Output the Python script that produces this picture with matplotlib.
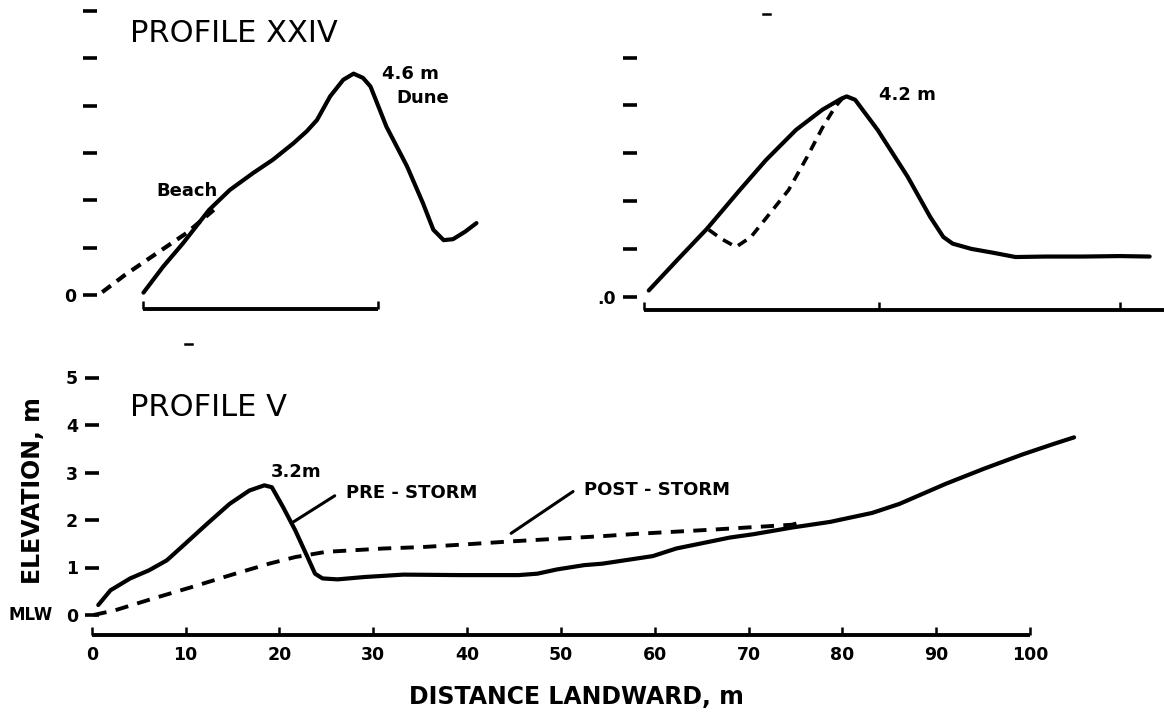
import matplotlib
matplotlib.use("Agg")
import matplotlib.pyplot as plt
from matplotlib.lines import Line2D

# ---------------- data ----------------
# Profile XXIV (top-left), distance m / elevation m
xxiv_solid_x = [5.7, 7.8, 9.9, 12.7, 14.9, 17.4, 19.5, 21.7, 23.1, 24.2, 25.6, 27.0,
                28.1, 29.1, 29.9, 31.6, 33.8, 35.5, 36.6, 37.7, 38.7, 40.0, 41.2]
xxiv_solid_y = [0.05, 0.60, 1.09, 1.80, 2.22, 2.58, 2.86, 3.21, 3.46, 3.70, 4.20, 4.55,
                4.68, 4.59, 4.41, 3.56, 2.72, 1.94, 1.38, 1.16, 1.18, 1.34, 1.52]
xxiv_dash_x = [1.3, 3.7, 7.1, 10.3, 13.2]
xxiv_dash_y = [0.06, 0.42, 0.88, 1.31, 1.80]

# second top profile (top-right)
tr_solid_x = [2.0, 5.0, 8.2, 11.7, 14.5, 17.7, 20.5, 22.5, 23.1, 24.0, 26.4, 29.6,
              32.0, 33.4, 34.4, 36.4, 38.7, 41.1, 44.3, 48.3, 52.2, 55.4]
tr_solid_y = [0.13, 0.76, 1.42, 2.23, 2.86, 3.49, 3.91, 4.14, 4.19, 4.12, 3.49, 2.51,
              1.67, 1.25, 1.11, 1.00, 0.92, 0.83, 0.84, 0.84, 0.85, 0.84]
tr_dash_x = [8.4, 9.75, 11.3, 12.9, 14.9, 16.9, 18.9, 20.5, 21.9, 22.7]
tr_dash_y = [1.40, 1.21, 1.04, 1.25, 1.74, 2.23, 2.93, 3.53, 3.98, 4.16]

# Profile V (bottom): pre-storm (solid) and post-storm (dashed)
pre_x = [0.7, 2.0, 4.1, 6.1, 8.0, 9.8, 12.3, 14.7, 16.8, 18.4, 19.2, 20.4, 21.7, 23.0,
         23.8, 24.6, 26.2, 29.1, 33.2, 39.3, 45.5, 47.5, 49.6, 52.5, 54.4, 59.8, 62.3,
         68.0, 70.5, 74.6, 78.7, 83.2, 86.1, 91.0, 95.1, 99.2, 102.5, 104.7]
pre_y = [0.21, 0.52, 0.77, 0.94, 1.15, 1.47, 1.92, 2.34, 2.62, 2.73, 2.69, 2.27, 1.78, 1.22,
         0.87, 0.77, 0.75, 0.80, 0.85, 0.84, 0.84, 0.87, 0.96, 1.05, 1.08, 1.24, 1.40,
         1.63, 1.70, 1.84, 1.96, 2.15, 2.34, 2.76, 3.08, 3.38, 3.60, 3.74]
post_x = [0.2, 2.5, 6.6, 10.7, 14.8, 18.9, 21.7, 25.0, 31.1, 35.2, 39.3, 44.7, 50.0,
          54.4, 58.2, 66.4, 74.6, 75.4]
post_y = [0.00, 0.10, 0.35, 0.59, 0.84, 1.08, 1.22, 1.33, 1.40, 1.43, 1.48, 1.55, 1.61,
          1.66, 1.71, 1.80, 1.90, 1.94]

bottom_xticks = [0, 10, 20, 30, 40, 50, 60, 70, 80, 90, 100]
bottom_xticklabels = ["0", "10", "20", "30", "40", "50", "60", "70", "80", "90", "100"]
bottom_yticks = [0, 1, 2, 3, 4, 5]
bottom_yticklabels = ["0", "1", "2", "3", "4", "5"]
xxiv_yticks = [0, 1, 2, 3, 4, 5, 6]
tr_yticks = [0, 1, 2, 3, 4, 5]

# ---------------- figure ----------------
W, H = 1164, 715
fig = plt.figure(figsize=(W / 100, H / 100), dpi=100)
plt.rcParams['font.family'] = ['DejaVu Sans']
INK = "black"


def make_axes(x0, sx, y0, sy, xlim, ylim):
    """Axes placed so that data (0,0) sits at pixel (x0, y0) with sx, sy px per metre."""
    left = x0 + xlim[0] * sx
    right = x0 + xlim[1] * sx
    bot = y0 - ylim[0] * sy
    top = y0 - ylim[1] * sy
    ax = fig.add_axes([left / W, 1 - bot / H, (right - left) / W, (bot - top) / H])
    ax.set_xlim(*xlim)
    ax.set_ylim(*ylim)
    ax.patch.set_alpha(0)
    for s in ("top", "right"):
        ax.spines[s].set_visible(False)
    ax.spines["left"].set_position(("data", 0))
    ax.spines["left"].set_visible(False)
    ax.spines["bottom"].set_linewidth(2.8)
    ax.spines["bottom"].set_capstyle("butt")
    ax.tick_params(axis="y", direction="inout", length=10, width=2.6, pad=5,
                   labelsize=12.5, colors=INK)
    ax.tick_params(axis="x", direction="in", length=5.5, width=1.8, pad=8,
                   labelsize=12.5, colors=INK)
    return ax


LABEL = dict(fontsize=13, fontweight="bold", color=INK, ha="center", va="center")
TITLE = dict(fontsize=22, fontweight="normal", color=INK, ha="left", va="center")

# ---- top-left: PROFILE XXIV ----
ax1 = make_axes(90, 9.38, 295, 47.3, (-3, 45), (-0.30, 6.2))
ax1.plot(xxiv_solid_x, xxiv_solid_y, color=INK, lw=3.0, solid_capstyle="round",
         solid_joinstyle="round", clip_on=False)
ax1.plot(xxiv_dash_x, xxiv_dash_y, color=INK, lw=3.0, linestyle=(0, (2.6, 1.8)),
         clip_on=False)
ax1.spines["bottom"].set_bounds(5.6, 30.7)
ax1.set_xticks([5.6, 30.7])
ax1.set_xticklabels([])
ax1.tick_params(axis="x", length=6)
ax1.set_yticks(xxiv_yticks)
ax1.set_yticklabels(["0"] + [""] * (len(xxiv_yticks) - 1), fontweight="bold")
ax1.text(4.26, 5.53, "PROFILE XXIV", **TITLE)
ax1.text(10.3, 2.19, "Beach", **LABEL)
ax1.text(34.2, 4.67, "4.6 m", **LABEL)
ax1.text(35.5, 4.16, "Dune", **LABEL)

# ---- top-right ----
ax2 = make_axes(630, 9.38, 296.7, 47.8, (-3, 57), (-0.27, 6.1))
ax2.plot(tr_solid_x, tr_solid_y, color=INK, lw=3.0, solid_capstyle="round",
         solid_joinstyle="round", clip_on=False)
ax2.plot(tr_dash_x, tr_dash_y, color=INK, lw=2.6, linestyle=(0, (2.8, 2.0)),
         clip_on=False)
ax2.spines["bottom"].set_bounds(1.5, 57)
ax2.set_xticks([1.5, 26.5, 52.2])
ax2.set_xticklabels([])
ax2.tick_params(axis="x", length=6)
ax2.set_yticks(tr_yticks)
ax2.set_yticklabels([".0"] + [""] * (len(tr_yticks) - 1), fontweight="bold")
ax2.text(29.6, 4.23, "4.2 m", **LABEL)

# ---- bottom: PROFILE V ----
ax3 = make_axes(91.7, 9.383, 615, 47.5, (-2, 108), (-0.42, 5.4))
ax3.plot(pre_x, pre_y, color=INK, lw=3.0, solid_capstyle="round",
         solid_joinstyle="round", clip_on=False)
ax3.plot(post_x, post_y, color=INK, lw=2.8, linestyle=(0, (3.4, 2.4)), clip_on=False)
ax3.spines["bottom"].set_bounds(0, 100)
ax3.set_xticks(bottom_xticks)
ax3.set_xticklabels(bottom_xticklabels, fontweight="bold")
ax3.set_yticks(bottom_yticks)
ax3.set_yticklabels(bottom_yticklabels, fontweight="bold")
ax3.text(-6.5, 0, "MLW", fontsize=12, fontweight="bold", color=INK, ha="center",
         va="center", clip_on=False)
ax3.text(4.08, 4.36, "PROFILE V", **TITLE)
ax3.text(21.8, 3.02, "3.2m", **LABEL)
ax3.text(34.1, 2.56, "PRE - STORM", **LABEL)
ax3.text(60.3, 2.63, "POST - STORM", **LABEL)
leader = dict(arrowstyle="-", lw=2.2, color=INK, shrinkA=0, shrinkB=0)
ax3.annotate("", xy=(21.5, 1.96), xytext=(25.9, 2.51), arrowprops=leader)
ax3.annotate("", xy=(44.7, 1.72), xytext=(51.3, 2.60), arrowprops=leader)
ax3.text(-6.3, 2.63, "ELEVATION, m", rotation=90, fontsize=17, fontweight="bold",
         color=INK, ha="center", va="center", clip_on=False)
ax3.text(51.7, -1.72, "DISTANCE LANDWARD, m", fontsize=17, fontweight="bold",
         color=INK, ha="center", va="center", clip_on=False)

# small scan specks of the original print (figure pixel positions)
for (xa, xb, yy) in [(763, 770, 13.5), (185, 192, 344)]:
    fig.add_artist(Line2D([xa / W, xb / W], [1 - yy / H, 1 - yy / H],
                          transform=fig.transFigure, color=INK, lw=1.8))

fig.savefig("out.png", dpi=100, facecolor="white")
